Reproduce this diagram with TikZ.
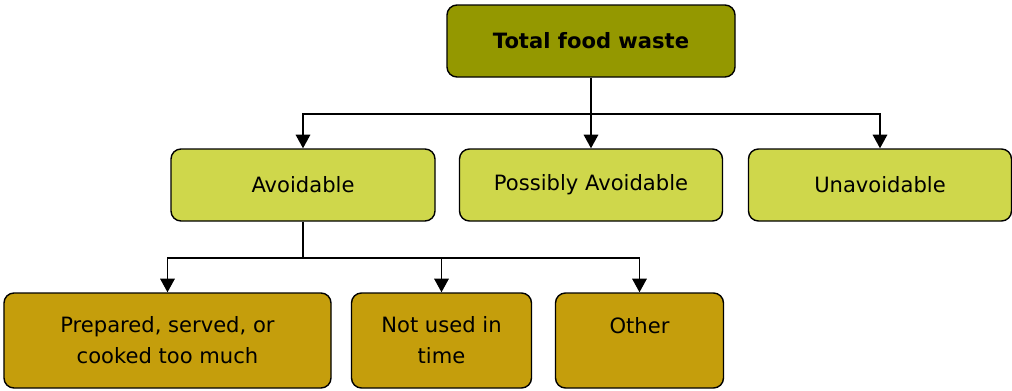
\documentclass[tikz,border=0pt]{standalone}
\usepackage{fontspec}
\setmainfont{DejaVu Sans}
\usepackage{xcolor}
\usetikzlibrary{positioning, arrows.meta}

\definecolor{wasteolive}{RGB}{148,152,0}
\definecolor{wastelime}{RGB}{207,215,75}
\definecolor{wastegold}{RGB}{197,158,12}

\begin{document}
\begin{tikzpicture}[on grid,
    box/.style={draw=black, line width=1pt, rounded corners=0.25cm, text=black,
      align=center, font=\fontsize{15}{22}\selectfont, inner sep=0pt},
    rootbox/.style={box, fill=wasteolive, minimum width=7.2cm, minimum height=1.8cm,
      font=\fontsize{15}{22}\selectfont\bfseries},
    kindbox/.style={box, fill=wastelime, minimum height=1.8cm},
    causebox/.style={box, fill=wastegold, minimum height=2.375cm},
    link/.style={line width=1.3pt},
    arrow/.style={link, -{Triangle[width=0.36cm, length=0.34cm]}}]
    \useasboundingbox (0,0) rectangle (25.3,-9.75);

    \node[rootbox] (total) at (14.775,-1.025) {Total food waste};
    \node[kindbox, minimum width=6.6cm, below left=3.6cm and 7.2cm of total] (avoid) {Avoidable};
    \node[kindbox, minimum width=6.575cm, below=3.6cm of total] (possibly) {Possibly Avoidable};
    \node[kindbox, minimum width=6.575cm, right=7.225cm of possibly] (unavoid) {Unavoidable};
    \node[causebox, minimum width=8.175cm, below left=3.8875cm and 3.3875cm of avoid] (cooked) {Prepared, served, or\\cooked too much};
    \node[causebox, minimum width=4.5cm, right=6.85cm of cooked] (time) {Not used in\\time};
    \node[causebox, minimum width=4.2cm, right=4.95cm of time] (other) {Other\\\mbox{}};

    \coordinate[below=0.9cm of total.south] (split1);
    \coordinate[below=0.9cm of avoid.south] (split2);

    \draw[link] (total.south) -- (split1);
    \draw[arrow] (split1) -| (avoid.north);
    \draw[arrow] (split1) -- (possibly.north);
    \draw[arrow] (split1) -| (unavoid.north);

    \draw[link] (avoid.south) -- (split2);
    \draw[arrow] (split2) -| (cooked.north);
    \draw[arrow] (split2) -| (time.north);
    \draw[arrow] (split2) -| (other.north);
\end{tikzpicture}
\end{document}
